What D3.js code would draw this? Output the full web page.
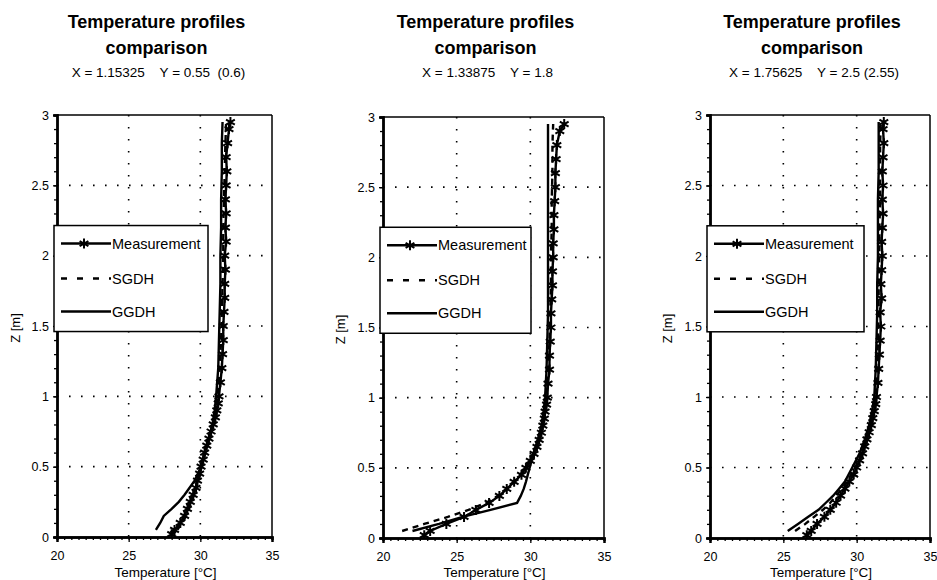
<!DOCTYPE html>
<html>
<head>
<meta charset="utf-8">
<script src="https://cdn.jsdelivr.net/npm/d3@7"></script>
<style>
  html, body { margin: 0; padding: 0; background: #fff; }
  svg { display: block; font-family: "Liberation Sans", Arial, sans-serif; }
  .pre { white-space: pre; }
</style>
</head>
<body>
<svg id="chart" width="937" height="580"></svg>
<script>
// ---------- data ----------
const seriesNames = ["Measurement", "SGDH", "GGDH"];
const titleLines = ["Temperature profiles", "comparison"];
const subtitles = [
  "X = 1.15325    Y = 0.55  (0.6)",
  "X = 1.33875    Y = 1.8",
  "X = 1.75625    Y = 2.5 (2.55)"
];
const xTicks = [20, 25, 30, 35];
const yTicks = [0, 0.5, 1, 1.5, 2, 2.5, 3];
const xLabel = "Temperature [°C]";
const yLabel = "Z [m]";

const zMeas = [0.02,0.05,0.1,0.15,0.2,0.25,0.3,0.35,0.4,0.45,0.5,0.55,0.6,0.65,0.7,0.75,0.8,0.85,0.9,0.95,
               1.0,1.1,1.2,1.3,1.4,1.5,1.6,1.7,1.8,1.9,2.0,2.1,2.2,2.3,2.4,2.5,2.6,2.7,2.8,2.9,2.95];
const zModel = [0.05,0.1,0.15,0.2,0.25,0.3,0.35,0.4,0.5,0.6,0.7,0.8,0.9,1.0,1.2,1.4,1.6,1.8,2.0,2.2,2.4,2.6,2.8,2.95];

const p1Meas = [28.0,28.2,28.6,28.9,29.1,29.3,29.5,29.7,29.8,29.95,30.05,30.2,30.3,30.45,30.6,30.75,30.9,31.05,31.15,31.25,
                31.3,31.4,31.5,31.55,31.6,31.6,31.65,31.7,31.7,31.75,31.7,31.8,31.75,31.8,31.75,31.8,31.85,31.8,31.9,32.0,32.1];
const p1SGDH = [28.4,28.7,29.0,29.2,29.4,29.55,29.7,29.85,30.1,30.35,30.65,30.9,31.1,31.2,31.35,31.45,31.5,31.55,31.6,31.6,31.65,31.7,31.75,31.8];
const p1GGDH = [26.9,27.2,27.45,28.0,28.5,28.9,29.25,29.6,30.05,30.3,30.6,30.85,31.0,31.1,31.25,31.3,31.35,31.4,31.4,31.45,31.45,31.5,31.5,31.55];

const p2Meas = [22.8,23.2,24.3,25.5,26.3,27.2,27.9,28.4,28.9,29.4,29.7,30.0,30.25,30.45,30.6,30.75,30.85,30.95,31.0,31.1,
                31.15,31.2,31.3,31.3,31.35,31.4,31.4,31.45,31.5,31.5,31.55,31.55,31.6,31.6,31.65,31.7,31.7,31.75,31.8,32.0,32.3];
const p2SGDH = [21.3,22.8,24.4,25.8,27.0,27.8,28.4,28.9,29.7,30.2,30.55,30.8,31.0,31.1,31.2,31.3,31.35,31.4,31.4,31.45,31.45,31.5,31.5,31.55];
const p2GGDH = [22.0,23.8,25.4,27.3,29.1,29.35,29.55,29.7,29.95,30.2,30.5,30.75,30.9,31.0,31.1,31.15,31.2,31.2,31.2,31.2,31.2,31.2,31.2,31.2];

const p3Meas = [26.6,26.9,27.3,27.8,28.2,28.6,28.9,29.2,29.5,29.8,30.0,30.2,30.4,30.55,30.7,30.85,31.0,31.1,31.2,31.3,
                31.35,31.45,31.5,31.55,31.6,31.65,31.6,31.7,31.65,31.7,31.75,31.7,31.75,31.8,31.75,31.8,31.75,31.8,31.85,31.8,31.85];
const p3SGDH = [25.8,26.5,27.1,27.7,28.2,28.6,29.0,29.35,29.9,30.35,30.7,30.95,31.15,31.3,31.4,31.45,31.5,31.5,31.55,31.55,31.6,31.6,31.6,31.65];
const p3GGDH = [25.3,26.0,26.7,27.4,27.9,28.4,28.8,29.2,29.7,30.2,30.55,30.85,31.05,31.2,31.3,31.35,31.4,31.4,31.45,31.45,31.45,31.5,31.5,31.5];

const panelData = [
  { meas: p1Meas, sgdh: p1SGDH, ggdh: p1GGDH },
  { meas: p2Meas, sgdh: p2SGDH, ggdh: p2GGDH },
  { meas: p3Meas, sgdh: p3SGDH, ggdh: p3GGDH }
];

// ---------- layout ----------
const frames = [
  { left: 57,  right: 272, top: 115, bottom: 537, ylabX: 20 },
  { left: 383, right: 604, top: 117, bottom: 538, ylabX: 345 },
  { left: 710, right: 930, top: 115, bottom: 538, ylabX: 672 }
];

const svg = d3.select("#chart");
svg.append("rect").attr("width", 937).attr("height", 580).attr("fill", "#fff");

const asterisk = "M0,-5V5M-4.4,-2.5L4.4,2.5M-4.4,2.5L4.4,-2.5";

frames.forEach((f, i) => {
  const data = panelData[i];
  const x = d3.scaleLinear().domain([20, 35]).range([f.left, f.right]);
  const y = d3.scaleLinear().domain([0, 3]).range([f.bottom, f.top]);
  const g = svg.append("g");
  const cx = (f.left + f.right) / 2;

  // titles
  g.append("text").attr("x", cx - 8).attr("y", 28).attr("text-anchor", "middle")
    .attr("font-size", 18).attr("font-weight", "bold").text(titleLines[0]);
  g.append("text").attr("x", cx - 8).attr("y", 54).attr("text-anchor", "middle")
    .attr("font-size", 18).attr("font-weight", "bold").text(titleLines[1]);
  g.append("text").attr("class", "pre").attr("x", cx - 6).attr("y", 77).attr("text-anchor", "middle")
    .attr("font-size", 13.5).text(subtitles[i]);

  // grid (dotted)
  const gridX = xTicks.filter(t => t > 20 && t < 35);
  const gridY = yTicks.filter(t => t > 0 && t < 3);
  g.selectAll(".gx").data(gridX).enter().append("line")
    .attr("x1", d => x(d)).attr("x2", d => x(d)).attr("y1", f.top).attr("y2", f.bottom)
    .attr("stroke", "#000").attr("stroke-width", 1.6).attr("stroke-dasharray", "1.6,10.4");
  g.selectAll(".gy").data(gridY).enter().append("line")
    .attr("x1", f.left).attr("x2", f.right).attr("y1", d => y(d)).attr("y2", d => y(d))
    .attr("stroke", "#000").attr("stroke-width", 1.6).attr("stroke-dasharray", "1.6,10.4");

  // frame top/right
  g.append("line").attr("x1", f.left).attr("x2", f.right).attr("y1", f.top).attr("y2", f.top)
    .attr("stroke", "#000").attr("stroke-width", 1.5);
  g.append("line").attr("x1", f.right).attr("x2", f.right).attr("y1", f.top).attr("y2", f.bottom)
    .attr("stroke", "#000").attr("stroke-width", 1.5);

  // axes
  const yAxis = d3.axisLeft(y).tickValues(yTicks).tickSize(4).tickPadding(4)
    .tickFormat(d => d3.format("")(d));
  const yMinor = d3.axisLeft(y).ticks(30).tickSize(3).tickFormat("");
  const xAxis = d3.axisBottom(x).tickValues(xTicks).tickSize(5).tickPadding(9);
  const xMinor = d3.axisBottom(x).ticks(30).tickSize(3).tickFormat("");

  const ga = g.append("g").attr("transform", `translate(${f.left},0)`).call(yMinor);
  const gy = g.append("g").attr("transform", `translate(${f.left},0)`).call(yAxis);
  const gb = g.append("g").attr("transform", `translate(0,${f.bottom})`).call(xMinor);
  const gx = g.append("g").attr("transform", `translate(0,${f.bottom})`).call(xAxis);
  [ga, gy, gb, gx].forEach(a => {
    a.select(".domain").attr("stroke", "#000").attr("stroke-width", 2.4);
    a.selectAll(".tick line").attr("stroke", "#000").attr("stroke-width", 1.3);
    a.selectAll("text").attr("font-size", 12.5).attr("fill", "#000")
      .attr("font-family", "'Liberation Sans', Arial, sans-serif");
  });

  // axis labels
  g.append("text").attr("x", cx + 1).attr("y", 577).attr("text-anchor", "middle")
    .attr("font-size", 13.5).text(xLabel);
  g.append("text").attr("transform", `translate(${f.ylabX},${(f.top + f.bottom) / 2 + 2}) rotate(-90)`)
    .attr("text-anchor", "middle").attr("font-size", 13).text(yLabel);

  // series
  const line = d3.line().x(d => x(d[0])).y(d => y(d[1]));
  const measPts = data.meas.map((t, k) => [t, zMeas[k]]);
  const sgdhPts = data.sgdh.map((t, k) => [t, zModel[k]]);
  const ggdhPts = data.ggdh.map((t, k) => [t, zModel[k]]);

  const clip = "clip" + i;
  svg.append("clipPath").attr("id", clip).append("rect")
    .attr("x", f.left).attr("y", f.top - 6).attr("width", f.right - f.left).attr("height", f.bottom - f.top + 6);
  const gs = g.append("g").attr("clip-path", `url(#${clip})`);

  gs.append("path").datum(ggdhPts).attr("d", line).attr("fill", "none")
    .attr("stroke", "#000").attr("stroke-width", 2.4);
  gs.append("path").datum(sgdhPts).attr("d", line).attr("fill", "none")
    .attr("stroke", "#000").attr("stroke-width", 2.4).attr("stroke-dasharray", "6,5");
  gs.append("path").datum(measPts).attr("d", line).attr("fill", "none")
    .attr("stroke", "#000").attr("stroke-width", 2.4);
  gs.selectAll(".m").data(measPts).enter().append("path")
    .attr("transform", d => `translate(${x(d[0])},${y(d[1])})`)
    .attr("d", asterisk).attr("stroke", "#000").attr("stroke-width", 2).attr("fill", "none");

  // legend
  const lx = f.left - 3, ly = y(2.2) - 2;
  const lw = [154, 151, 157][i], lh = 106;
  const lg = g.append("g");
  lg.append("rect").attr("x", lx).attr("y", ly).attr("width", lw).attr("height", lh)
    .attr("fill", "#fff").attr("stroke", "#000").attr("stroke-width", 1.5);
  const rows = [18, 53, 86];
  seriesNames.forEach((name, k) => {
    const ry = ly + rows[k];
    const l = lg.append("line").attr("x1", lx + 7).attr("x2", lx + 57).attr("y1", ry).attr("y2", ry)
      .attr("stroke", "#000").attr("stroke-width", 2.4);
    if (k === 1) l.attr("stroke-dasharray", "6,10");
    if (k === 0) lg.append("path").attr("transform", `translate(${lx + 30},${ry})`)
      .attr("d", asterisk).attr("stroke", "#000").attr("stroke-width", 2);
    lg.append("text").attr("x", lx + 58).attr("y", ry + 5).attr("font-size", 14.5).text(name);
  });
});
</script>
</body>
</html>
